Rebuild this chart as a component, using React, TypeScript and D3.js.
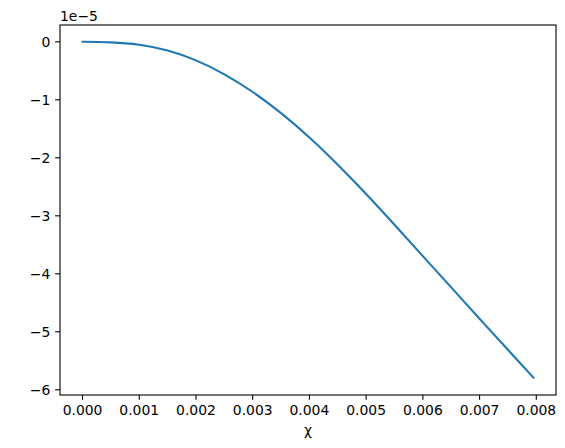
import React, { useEffect, useRef } from "react";
import * as d3 from "d3";

// curve (x in units of 1, y in units of 1e-5)
const xValues = [0, 0.0005, 0.001, 0.0015, 0.002, 0.0025, 0.003, 0.0035, 0.004, 0.0045, 0.005, 0.0055, 0.006, 0.0065, 0.007, 0.0075, 0.00795];
const yValues = [0, -0.01, -0.05, -0.15, -0.32, -0.56, -0.865, -1.23, -1.65, -2.12, -2.625, -3.155, -3.695, -4.235, -4.775, -5.31, -5.79];
const xTicks = [0, 0.001, 0.002, 0.003, 0.004, 0.005, 0.006, 0.007, 0.008];
const yTicks = [0, -1, -2, -3, -4, -5, -6];

const width = 565;
const height = 448;
const margin = { top: 25, right: 9, bottom: 53, left: 60 };
const font = "'DejaVu Sans', sans-serif";

const Chart = () => {
  const ref = useRef<SVGSVGElement>(null);

  useEffect(() => {
    const svg = d3.select(ref.current);
    svg.selectAll("*").remove();

    const x = d3
      .scaleLinear()
      .domain([-0.0003975, 0.0083475])
      .range([margin.left, width - margin.right]);
    const y = d3
      .scaleLinear()
      .domain([-6.09, 0.29])
      .range([height - margin.bottom, margin.top]);

    const fmt = (v: number) => (v < 0 ? "\u2212" + Math.abs(v) : String(v));

    // x ticks
    const gx = svg.append("g");
    xTicks.forEach((t) => {
      gx.append("line")
        .attr("x1", x(t))
        .attr("x2", x(t))
        .attr("y1", height - margin.bottom)
        .attr("y2", height - margin.bottom + 4.86)
        .attr("stroke", "black")
        .attr("stroke-width", 1.1);
      gx.append("text")
        .attr("x", x(t))
        .attr("y", height - margin.bottom + 20)
        .attr("text-anchor", "middle")
        .attr("font-size", 13.9)
        .attr("font-family", font)
        .text(t.toFixed(3));
    });

    // y ticks
    const gy = svg.append("g");
    yTicks.forEach((t) => {
      gy.append("line")
        .attr("x1", margin.left - 4.86)
        .attr("x2", margin.left)
        .attr("y1", y(t))
        .attr("y2", y(t))
        .attr("stroke", "black")
        .attr("stroke-width", 1.1);
      gy.append("text")
        .attr("x", margin.left - 9.7)
        .attr("y", y(t) + 5)
        .attr("text-anchor", "end")
        .attr("font-size", 13.9)
        .attr("font-family", font)
        .text(fmt(t));
    });

    const line = d3
      .line<number>()
      .x((d, i) => x(xValues[i]))
      .y((d) => y(d))
      .curve(d3.curveNatural);

    svg
      .append("path")
      .datum(yValues)
      .attr("d", line)
      .attr("fill", "none")
      .attr("stroke", "#1f77b4")
      .attr("stroke-width", 2.08)
      .attr("stroke-linecap", "square");

    // frame
    svg
      .append("rect")
      .attr("x", margin.left)
      .attr("y", margin.top)
      .attr("width", width - margin.left - margin.right)
      .attr("height", height - margin.top - margin.bottom)
      .attr("fill", "none")
      .attr("stroke", "black")
      .attr("stroke-width", 1.1);

    // offset text
    svg
      .append("text")
      .attr("x", margin.left)
      .attr("y", 21)
      .attr("font-size", 13.9)
      .attr("font-family", font)
      .text("1e\u22125");

    // x label
    svg
      .append("text")
      .attr("x", (margin.left + width - margin.right) / 2)
      .attr("y", 435)
      .attr("text-anchor", "middle")
      .attr("font-size", 13.9)
      .attr("font-family", font)
      .text("χ");
  }, []);

  return <svg ref={ref} width={width} height={height} style={{ display: "block", background: "white" }}></svg>;
};

export default function App() {
  return (
    <div style={{ position: "absolute", left: 0, top: 0 }}>
      <Chart />
    </div>
  );
}
